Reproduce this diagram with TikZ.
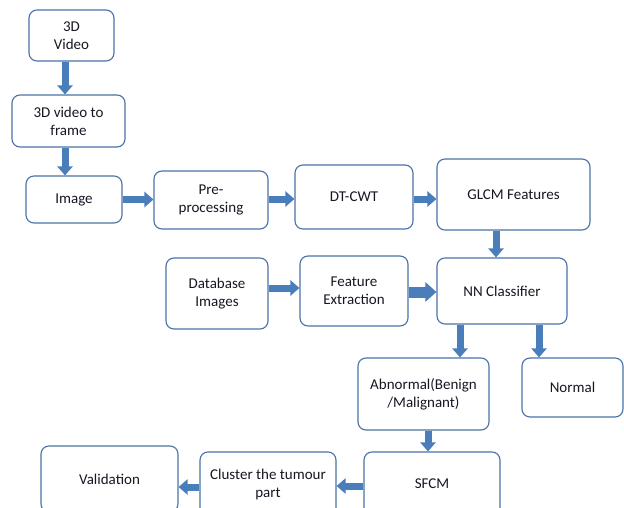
\documentclass[tikz,border=0pt]{standalone}
\usepackage{fontspec}
\setmainfont{Carlito}
\usetikzlibrary{arrows.meta}
\definecolor{boxline}{RGB}{74,114,168}
\definecolor{arrowblue}{RGB}{74,126,187}
\definecolor{txt}{RGB}{25,22,35}
\tikzset{
  blk/.style={draw=boxline, line width=1.1pt, rounded corners=8pt, fill=white,
    align=center, text=txt, font=\fontsize{15}{18}\selectfont, inner sep=0pt},
  barrow/.style={draw=arrowblue, line width=7pt,
    -{Triangle[width=15pt,length=9pt]}},
  bigarrow/.style={draw=arrowblue, line width=11pt,
    -{Triangle[width=19pt,length=11pt]}}
}
\newcommand{\bx}[6]{\node[blk, minimum width=#4pt, minimum height=#5pt] (#1) at (#2,#3) {#6};}
\begin{document}
\begin{tikzpicture}[x=1pt,y=-1pt]
\useasboundingbox (0,0) rectangle (624,508);
\bx{v3d}{71.5}{35.5}{85}{51}{3D\\Video}
\bx{frame}{68.5}{121}{113}{52}{3D video to\\frame}
\bx{img}{74}{199.5}{96}{47}{Image}
\bx{pre}{211}{200}{114}{58}{Pre-\\processing}
\bx{dtcwt}{354}{197}{118}{64}{DT-CWT}
\bx{glcm}{513.5}{194.5}{153}{71}{GLCM Features}
\bx{db}{217}{293.5}{102}{71}{Database\\Images}
\bx{fe}{354}{291}{108}{70}{Feature\\Extraction}
\bx{nn}{502}{291}{130}{66}{NN Classifier}
\bx{abn}{423.5}{394}{131}{72}{Abnormal(Benign\\/Malignant)}
\bx{normal}{572.5}{387.5}{101}{59}{Normal}
\bx{sfcm}{432}{484}{136}{64}{SFCM}
\bx{cluster}{268}{484}{136}{64}{Cluster the tumour\\part}
\bx{valid}{109.5}{479}{137}{66}{Validation}
% helper coordinates for connector lines
\coordinate (c1) at (65,0);
\coordinate (c2) at (0,199);
\coordinate (c3) at (496,0);
\coordinate (c4) at (0,288);
\coordinate (c5) at (0,292);
\coordinate (c6) at (460,0);
\coordinate (c7) at (539,0);
\coordinate (c8) at (428,0);
\coordinate (c9) at (0,486);
\coordinate (c10) at (0,487);
\draw[barrow] (v3d.south -| c1) -- (frame.north -| c1);
\draw[barrow] (frame.south -| c1) -- (img.north -| c1);
\draw[barrow] (img.east) -- (pre.west |- img.east);
\draw[barrow] (pre.east |- c2) -- (dtcwt.west |- c2);
\draw[barrow] (dtcwt.east |- c2) -- (glcm.west |- c2);
\draw[barrow] (glcm.south -| c3) -- (nn.north -| c3);
\draw[barrow] (db.east |- c4) -- (fe.west |- c4);
\draw[bigarrow] (fe.east |- c5) -- (nn.west |- c5);
\draw[barrow] (nn.south -| c6) -- (abn.north -| c6);
\draw[barrow] (nn.south -| c7) -- (normal.north -| c7);
\draw[barrow] (abn.south -| c8) -- (sfcm.north -| c8);
\draw[barrow] (sfcm.west |- c9) -- (cluster.east |- c9);
\draw[barrow] (cluster.west |- c10) -- (valid.east |- c10);
\end{tikzpicture}
\end{document}
